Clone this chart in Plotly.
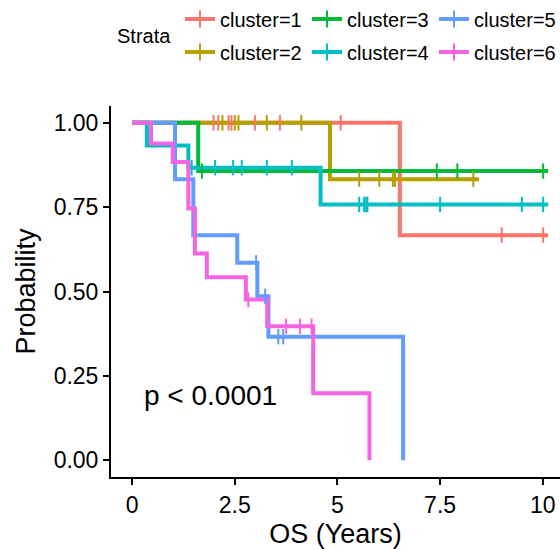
import plotly.graph_objects as go

# ---- data ----
clusters = ["cluster=1", "cluster=2", "cluster=3", "cluster=4", "cluster=5", "cluster=6"]
colors = ["#F8766D", "#B79F00", "#00BA38", "#00BFC4", "#619CFF", "#F564E3"]

t1 = [0, 6.52, 10.13]
s1 = [1.0, 0.667, 0.667]
c1 = [1.98, 2.10, 2.35, 2.42, 2.99, 3.60, 5.08, 9.00, 10.01]

t2 = [0, 4.82, 8.45]
s2 = [1.0, 0.833, 0.833]
c2 = [2.20, 2.50, 2.59, 3.28, 4.12, 5.53, 6.02, 6.35, 6.40, 8.31]

t3 = [0, 1.61, 10.13]
s3 = [1.0, 0.857, 0.857]
c3 = [1.70, 7.42, 7.92, 10.01]

t4 = [0, 0.36, 1.37, 4.59, 10.13]
s4 = [1.0, 0.933, 0.867, 0.758, 0.758]
c4 = [1.45, 2.02, 2.46, 2.67, 3.28, 3.89, 5.53, 5.65, 5.70, 5.73, 7.50, 9.49, 10.01]

t5 = [0, 1.045, 1.49, 2.56, 3.05, 3.32, 6.60]
s5 = [1.0, 0.833, 0.667, 0.585, 0.486, 0.366, 0.0]
c5 = [3.02, 3.24, 3.56, 3.68]

t6 = [0, 0.46, 0.99, 1.37, 1.53, 1.82, 2.77, 3.29, 4.41, 5.78]
s6 = [1.0, 0.939, 0.884, 0.746, 0.613, 0.542, 0.476, 0.397, 0.198, 0.0]
c6 = [2.83, 3.75, 4.09, 4.37]

times = [t1, t2, t3, t4, t5, t6]
survs = [s1, s2, s3, s4, s5, s6]
censors = [c1, c2, c3, c4, c5, c6]

x_tickvals = [0, 2.5, 5, 7.5, 10]
x_ticktext = ["0", "2.5", "5", "7.5", "10"]
y_tickvals = [0, 0.25, 0.5, 0.75, 1.0]
y_ticktext = ["0.00", "0.25", "0.50", "0.75", "1.00"]
pval_text = "p < 0.0001"


def surv_at(t_list, s_list, t):
    val = s_list[0]
    for ti, si in zip(t_list, s_list):
        if ti <= t:
            val = si
    return val


FONT = "Liberation Sans, Arial, Helvetica, sans-serif"
fig = go.Figure()

# step lines
for name, col, t, s in zip(clusters, colors, times, survs):
    fig.add_trace(go.Scatter(x=t, y=s, mode="lines", line=dict(color=col, width=4, shape="hv"),
                             showlegend=False, hoverinfo="skip"))

# censor marks
for name, col, t, s, c in zip(clusters, colors, times, survs, censors):
    fig.add_trace(go.Scatter(x=c, y=[surv_at(t, s, ci) for ci in c], mode="markers",
                             marker=dict(symbol="line-ns", size=11, color=col, line=dict(width=2, color=col)),
                             showlegend=False, hoverinfo="skip"))

# legend entries (row 1: 1,3,5 ; row 2: 2,4,6)
for i, (name, col) in enumerate(zip(clusters, colors)):
    fig.add_trace(go.Scatter(x=[None], y=[None], mode="lines+markers", name=name,
                             line=dict(color=col, width=4),
                             marker=dict(symbol="line-ns", size=12, color=col, line=dict(width=2, color=col)),
                             legend="legend" if i % 2 == 0 else "legend2"))

legend_common = dict(orientation="h", xref="container", yref="container", xanchor="left", yanchor="middle",
                     entrywidth=82, font=dict(family=FONT, size=20, color="black"),
                     bgcolor="rgba(0,0,0,0)", itemwidth=30, tracegroupgap=0)

fig.update_layout(
    width=560, height=549,
    margin=dict(l=111, r=0, t=106, b=72),
    paper_bgcolor="white", plot_bgcolor="white",
    font=dict(family=FONT, color="black"),
    legend=dict(x=180 / 560, y=1 - 19 / 549, **legend_common),
    legend2=dict(x=180 / 560, y=1 - 52 / 549, **legend_common),
    xaxis=dict(range=[-0.514, 10.42], tickvals=x_tickvals, ticktext=x_ticktext,
               showgrid=False, zeroline=False, showline=True, linecolor="black", linewidth=2,
               ticks="outside", ticklen=6, tickwidth=2, tickcolor="black",
               tickfont=dict(family=FONT, size=23, color="black"),
               title=dict(text="OS (Years)", font=dict(family=FONT, size=27, color="black"), standoff=11)),
    yaxis=dict(range=[-0.05, 1.05], tickvals=y_tickvals, ticktext=y_ticktext,
               showgrid=False, zeroline=False, showline=True, linecolor="black", linewidth=2,
               ticks="outside", ticklen=6, tickwidth=2, tickcolor="black",
               tickfont=dict(family=FONT, size=23, color="black"),
               title=dict(text="Probability", font=dict(family=FONT, size=27, color="black"), standoff=10)),
    annotations=[
        dict(text="Strata", xref="paper", yref="paper", x=(144 - 111) / 449, y=1 + (106 - 36) / 371,
             showarrow=False, font=dict(family=FONT, size=20, color="black"), xanchor="center", yanchor="middle"),
        dict(text=pval_text, xref="x", yref="y", x=0.23, y=0.193, showarrow=False,
             font=dict(family=FONT, size=28, color="black"), xanchor="left", yanchor="middle"),
    ],
)

fig.write_html("out.html")
